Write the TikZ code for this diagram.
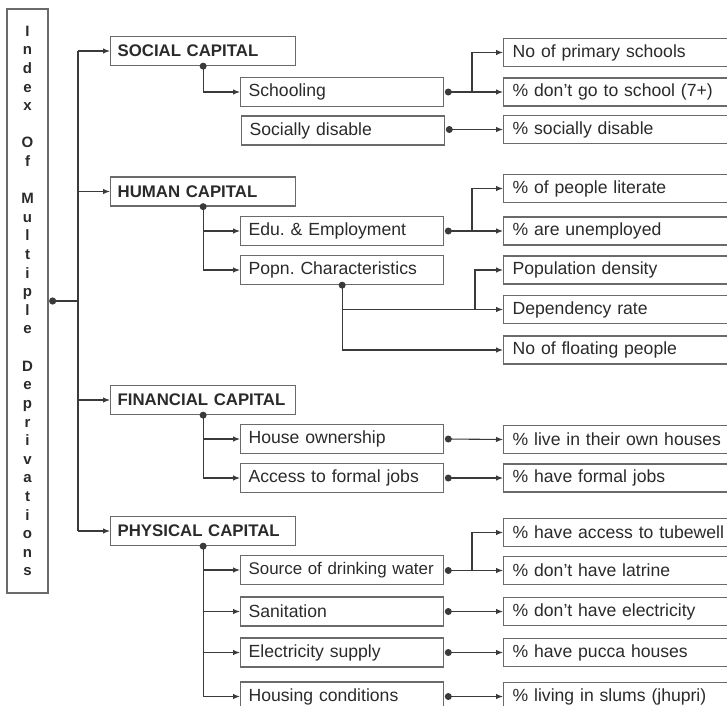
\documentclass[tikz,border=0pt]{standalone}
\usepackage{fontspec}
\setmainfont{Liberation Sans}
\usetikzlibrary{arrows.meta}
\definecolor{txt}{HTML}{2A2A2A}
\definecolor{bord}{HTML}{6A6A6A}
\definecolor{ln}{HTML}{3A3A3A}
\frenchspacing
\tikzset{
  capbox/.style={draw=bord, line width=1.3pt, anchor=west, minimum height=29pt, inner xsep=7pt, inner ysep=0pt,
    text width=171pt, align=left, text=txt, font=\fontsize{16.8}{19}\selectfont\bfseries},
  subbox/.style={draw=bord, line width=1.3pt, anchor=west, minimum height=29pt, inner xsep=8pt, inner ysep=0pt,
    text width=187pt, align=left, text=txt, font=\fontsize{17.6}{20}\selectfont},
  leafbox/.style={draw=bord, line width=1.3pt, anchor=west, minimum height=28pt, inner xsep=9pt, inner ysep=0pt,
    text width=260pt, align=left, text=txt, font=\fontsize{17.6}{20}\selectfont},
  conn/.style={draw=ln, line width=1.1pt, -{Latex[length=7pt,width=5.5pt]}},
  plain/.style={draw=ln, line width=1.1pt},
  jdot/.style={fill=ln},
}
\begin{document}
\begin{tikzpicture}[x=1pt,y=-1pt]
\useasboundingbox (0,0) rectangle (727,705);
% index box
\node[draw=bord, line width=1.3pt, minimum width=41pt, minimum height=584pt, inner sep=0pt, align=center, text=txt,
  font=\fontsize{15}{18.6}\selectfont\bfseries] (idx) at (27.5,301)
  {I\\n\\d\\e\\x\\[18.6pt]O\\f\\[18.6pt]M\\u\\l\\t\\i\\p\\l\\e\\[18.6pt]D\\e\\p\\r\\i\\v\\a\\t\\i\\o\\n\\s};
% capitals
\node[capbox] (soc) at (110,51) {SOCIAL CAPITAL};
\node[capbox] (hum) at (110,191.5) {HUMAN CAPITAL};
\node[capbox] (fin) at (110,400) {FINANCIAL CAPITAL};
\node[capbox] (phy) at (110,531) {PHYSICAL CAPITAL};
% sub boxes
\node[subbox] (school) at (240,92) {Schooling};
\node[subbox] (sdis) at (241,130.5) {Socially disable};
\node[subbox] (edu) at (240,231) {Edu. \& Employment};
\node[subbox] (popn) at (240,270) {Popn. Characteristics};
\node[subbox] (house) at (240,439) {House ownership};
\node[subbox] (access) at (240,478) {Access to formal jobs};
\node[subbox, font=\fontsize{16.9}{20}\selectfont] (source) at (240,570) {\mbox{Source of drinking water}};
\node[subbox] (sanit) at (240,611.5) {Sanitation};
\node[subbox] (elec) at (240,652.5) {Electricity supply};
\node[subbox] (hcond) at (240,696.5) {Housing conditions};
% leaf boxes
\node[leafbox] (l1) at (503,52.5) {No of primary schools};
\node[leafbox] (l2) at (503,92) {\% don't go to school (7+)};
\node[leafbox] (l3) at (503,129.5) {\% socially disable};
\node[leafbox] (l4) at (503,188.5) {\% of people literate};
\node[leafbox] (l5) at (503,231) {\% are unemployed};
\node[leafbox] (l6) at (503,270) {Population density};
\node[leafbox] (l7) at (503,309.5) {Dependency rate};
\node[leafbox] (l8) at (503,350) {No of floating people};
\node[leafbox] (l9) at (503,439.5) {\% live in their own houses};
\node[leafbox] (l10) at (503,478) {\% have formal jobs};
\node[leafbox] (l11) at (503,532.5) {\% have access to tubewell};
\node[leafbox] (l12) at (503,570.5) {\% don't have latrine};
\node[leafbox] (l13) at (503,611.5) {\% don't have electricity};
\node[leafbox] (l14) at (503,652.5) {\% have pucca houses};
\node[leafbox] (l15) at (503,696.5) {\% living in slums (jhupri)};
% trunk
\coordinate (ix) at ([xshift=4pt]idx.east);
\coordinate (tr) at (78,301);
\draw[plain, line width=1.6pt] (ix) -- (tr);
\fill[jdot] (ix) circle (3.6pt);
\draw[plain] (tr |- soc.west) -- (tr |- phy.west);
\foreach \c in {soc,hum,fin,phy} \draw[conn] (tr |- \c.west) -- (\c.west);
% social
\draw[conn] (soc.south) |- (school.west);
\fill[jdot] (soc.south) circle (3.5pt);
\coordinate (sb) at (472,92);
\draw[conn] ([xshift=4pt]school.east) -- (l2.west);
\draw[conn] (sb) |- (l1.west);
\fill[jdot] ([xshift=4pt]school.east) circle (3.5pt);
\draw[conn] ([xshift=4pt]sdis.east |- l3.west) -- (l3.west);
\fill[jdot] ([xshift=4pt]sdis.east |- l3.west) circle (3.5pt);
% human
\draw[conn] (hum.south) |- (edu.west);
\draw[conn] (hum.south) |- (popn.west);
\fill[jdot] (hum.south) circle (3.5pt);
\coordinate (eb) at (472,231);
\draw[conn] ([xshift=4pt]edu.east) -- (l5.west);
\draw[conn] (eb) |- (l4.west);
\fill[jdot] ([xshift=4pt]edu.east) circle (3.5pt);
\coordinate (pb) at (475,309.5);
\draw[conn] (popn.south) |- (l7.west);
\draw[conn] (popn.south) |- (l8.west);
\draw[conn] (pb) |- (l6.west);
\fill[jdot] (popn.south) circle (3.5pt);
% financial
\draw[conn] (fin.south) |- (house.west);
\draw[conn] (fin.south) |- (access.west);
\fill[jdot] (fin.south) circle (3.5pt);
\draw[conn] ([xshift=4pt]house.east) -- (l9.west);
\fill[jdot] ([xshift=4pt]house.east) circle (3.5pt);
\draw[conn] ([xshift=4pt]access.east) -- (l10.west);
\fill[jdot] ([xshift=4pt]access.east) circle (3.5pt);
% physical
\foreach \s in {source,sanit,elec,hcond} \draw[conn] (phy.south) |- (\s.west);
\fill[jdot] (phy.south) circle (3.5pt);
\coordinate (wb) at (472,570.5);
\draw[conn] ([xshift=4pt]source.east |- l12.west) -- (l12.west);
\draw[conn] (wb) |- (l11.west);
\fill[jdot] ([xshift=4pt]source.east |- l12.west) circle (3.5pt);
\draw[conn] ([xshift=4pt]sanit.east) -- (l13.west);
\fill[jdot] ([xshift=4pt]sanit.east) circle (3.5pt);
\draw[conn] ([xshift=4pt]elec.east) -- (l14.west);
\fill[jdot] ([xshift=4pt]elec.east) circle (3.5pt);
\draw[conn] ([xshift=4pt]hcond.east) -- (l15.west);
\fill[jdot] ([xshift=4pt]hcond.east) circle (3.5pt);
\end{tikzpicture}
\end{document}
